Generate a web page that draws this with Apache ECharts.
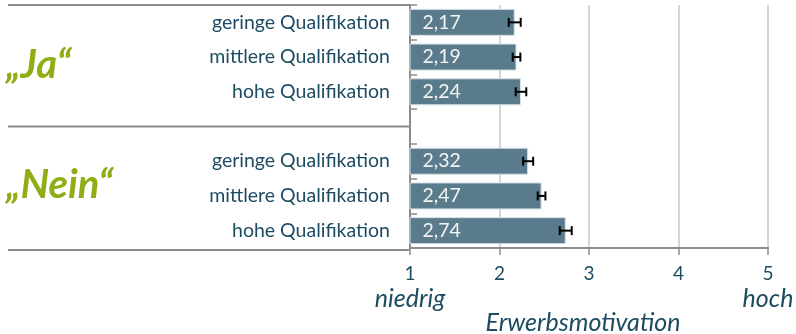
<!DOCTYPE html>
<html>
<head>
<meta charset="utf-8">
<script src="https://cdn.jsdelivr.net/npm/echarts@6/dist/echarts.min.js"></script>
<style>
  html, body { margin: 0; padding: 0; background: #fff; }
  #chart { width: 796px; height: 334px; }
</style>
</head>
<body>
<div id="chart"></div>
<script>
// Rows of the chart, top to bottom; the empty entry is the gap between the two groups
const categories = [
  'geringe Qualifikation', 'mittlere Qualifikation', 'hohe Qualifikation',
  '',
  'geringe Qualifikation', 'mittlere Qualifikation', 'hohe Qualifikation'
];
// Mean motivation per row
const meanValues = [2.17, 2.19, 2.24, null, 2.32, 2.47, 2.74];
// Half-width of the error interval per row
const errorMargins = [0.067, 0.043, 0.059, null, 0.056, 0.043, 0.067];
// Group headings: rows 0-2 and rows 4-6
const groupLabels = ['„Ja“', '„Nein“'];
// Scale ticks and the words under its ends
const xTicks = [1, 2, 3, 4, 5];
const scaleEndWords = { 1: 'niedrig', 5: 'hoch' };
const axisTitle = 'Erwerbsmotivation';

const FONT = 'Lato, "Open Sans", sans-serif';
const TEXT = '#1d4b61';
const GREEN = '#8fae16';
const LINE = '#8c8c8c';

const chart = echarts.init(document.getElementById('chart'), null, { renderer: 'canvas' });

const barData = meanValues.map(v => (v == null ? '-' : v));
const errData = [];
meanValues.forEach((v, i) => {
  if (v != null) errData.push([i, v - errorMargins[i], v + errorMargins[i]]);
});

const fmt = v => v.toFixed(2).replace('.', ',');

chart.setOption({
  animation: false,
  grid: { left: 410, right: 28, top: 5, bottom: 86, containLabel: false, outerBoundsMode: 'none' },
  xAxis: {
    type: 'value',
    min: xTicks[0],
    max: xTicks[xTicks.length - 1],
    interval: 1,
    axisLine: { show: true, lineStyle: { color: LINE, width: 2 } },
    axisTick: { show: true, length: 7, lineStyle: { color: LINE, width: 1.5 } },
    splitLine: { show: true, lineStyle: { color: '#c9c9c9', width: 1.5 } },
    axisLabel: {
      margin: 15,
      fontFamily: FONT,
      fontSize: 19,
      color: TEXT,
      lineHeight: 22,
      formatter: v => scaleEndWords[v] ? v + '\n{it|' + scaleEndWords[v] + '}' : String(v),
      rich: {
        it: { fontFamily: FONT, fontSize: 25, fontStyle: 'italic', color: TEXT, lineHeight: 28 }
      }
    },
    name: axisTitle,
    nameLocation: 'middle',
    nameGap: 62,
    nameMoveOverlap: false,
    nameTextStyle: { fontFamily: FONT, fontSize: 25, fontStyle: 'italic', color: TEXT, padding: [0, 12, 0, 0] }
  },
  yAxis: {
    type: 'category',
    inverse: true,
    data: categories,
    axisLine: { show: true, lineStyle: { color: LINE, width: 2 } },
    axisTick: { show: true, inside: true, length: 7, lineStyle: { color: LINE, width: 1.5 } },
    splitLine: { show: false },
    axisLabel: { margin: 20, fontFamily: FONT, fontSize: 19.5, color: TEXT }
  },
  series: [
    {
      type: 'bar',
      data: barData,
      barWidth: 27,
      itemStyle: { color: '#5a7b8b', borderColor: '#d5e1e7', borderWidth: 1 },
      label: {
        show: true,
        position: 'insideLeft',
        distance: 13,
        fontFamily: FONT,
        fontSize: 19.5,
        color: '#f2f4f5',
        formatter: p => fmt(p.value)
      },
      z: 2
    },
    {
      type: 'custom',
      data: errData,
      encode: { y: 0, x: [1, 2] },
      renderItem(params, api) {
        const row = api.value(0);
        const a = api.coord([api.value(1), row]);
        const b = api.coord([api.value(2), row]);
        const half = 4.5;
        const style = { stroke: '#000', lineWidth: 2 };
        return {
          type: 'group',
          children: [
            { type: 'line', shape: { x1: a[0], y1: a[1], x2: b[0], y2: b[1] }, style },
            { type: 'line', shape: { x1: a[0], y1: a[1] - half, x2: a[0], y2: a[1] + half }, style },
            { type: 'line', shape: { x1: b[0], y1: b[1] - half, x2: b[0], y2: b[1] + half }, style }
          ]
        };
      },
      z: 3
    }
  ]
});

// Separator rules and group headings on the left, placed from the category axis
const rowY = i => chart.convertToPixel({ yAxisIndex: 0 }, i);
const slot = rowY(1) - rowY(0);
const axisX = chart.convertToPixel({ xAxisIndex: 0 }, xTicks[0]);
const ruleYs = [rowY(0) - slot / 2, rowY(3), rowY(6) + slot / 2 + 2];

const graphics = ruleYs.map(y => ({
  type: 'line',
  shape: { x1: 8, y1: y, x2: axisX, y2: y },
  style: { stroke: LINE, lineWidth: 2 },
  silent: true
}));
const headingYs = [rowY(1) + slot * 0.24, rowY(5) - slot * 0.3];
groupLabels.forEach((t, i) => {
  graphics.push({
    type: 'text',
    x: 6,
    y: headingYs[i],
    style: {
      text: t,
      fontFamily: FONT,
      fontSize: 40,
      fontWeight: 'bold',
      fontStyle: 'italic',
      fill: GREEN,
      textAlign: 'left',
      textVerticalAlign: 'middle'
    },
    silent: true
  });
});
chart.setOption({ graphic: graphics });
</script>
</body>
</html>
